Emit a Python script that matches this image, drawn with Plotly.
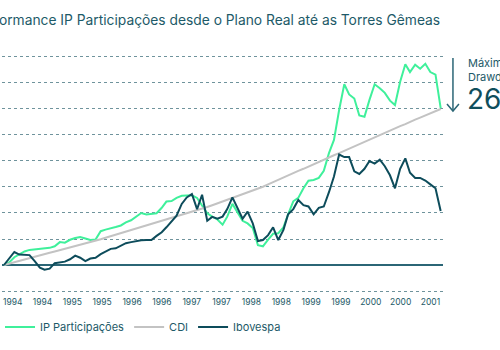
import plotly.graph_objects as go
import pandas as pd

# Monthly observations, Jul 1994 (Plano Real) to Sep 2001 (Torres Gêmeas)
months = pd.date_range("1994-07-01", "2001-09-01", freq="MS")

# Cumulative return (in units of 100%)
ip_participacoes = [
    0.00, 0.10, 0.30, 0.42, 0.52, 0.58, 0.60, 0.63, 0.62, 0.66,
    0.72, 0.88, 0.86, 0.97, 1.04, 1.08, 1.02, 0.96, 0.98, 1.30,
    1.36, 1.40, 1.46, 1.52, 1.64, 1.72, 1.88, 2.00, 1.94, 1.97,
    1.99, 2.20, 2.44, 2.46, 2.58, 2.66, 2.68, 2.68, 2.58, 2.30,
    1.99, 1.86, 1.75, 1.55, 1.86, 2.35, 2.05, 1.70, 1.60, 1.42,
    0.76, 0.72, 0.98, 1.20, 1.22, 1.45, 1.95, 2.45, 2.58, 2.95,
    3.24, 3.27, 3.35, 3.62, 4.30, 4.81, 5.96, 6.95, 6.56, 6.40,
    5.75, 5.70, 6.35, 6.95, 6.80, 6.62, 6.32, 6.15, 7.05, 7.72,
    7.42, 7.70, 7.55, 7.74, 7.42, 7.32, 6.03,
]

cdi = [
    0.00, 0.05, 0.10, 0.16, 0.21, 0.26, 0.31, 0.36, 0.42, 0.47,
    0.52, 0.57, 0.62, 0.68, 0.73, 0.78, 0.83, 0.88, 0.94, 0.99,
    1.05, 1.11, 1.16, 1.22, 1.28, 1.34, 1.39, 1.45, 1.51, 1.57,
    1.63, 1.69, 1.75, 1.81, 1.86, 1.92, 1.98, 2.04, 2.10, 2.15,
    2.23, 2.30, 2.37, 2.44, 2.51, 2.58, 2.65, 2.72, 2.79, 2.86,
    2.93, 3.01, 3.10, 3.19, 3.27, 3.36, 3.44, 3.53, 3.62, 3.70,
    3.79, 3.87, 3.96, 4.05, 4.13, 4.22, 4.30, 4.39, 4.48, 4.56,
    4.65, 4.73, 4.82, 4.91, 4.99, 5.08, 5.16, 5.25, 5.34, 5.42,
    5.51, 5.59, 5.67, 5.75, 5.84, 5.92, 6.00,
]

ibovespa = [
    0.00, 0.25, 0.50, 0.40, 0.38, 0.38, 0.15, -0.10, -0.18, -0.14,
    0.07, 0.09, 0.13, 0.22, 0.36, 0.28, 0.15, 0.25, 0.28, 0.42,
    0.52, 0.62, 0.64, 0.74, 0.84, 0.88, 0.92, 0.95, 0.96, 0.96,
    1.12, 1.26, 1.45, 1.70, 1.90, 2.35, 2.60, 2.73, 2.15, 2.70,
    1.70, 1.85, 1.78, 1.86, 2.15, 2.60, 2.20, 1.78, 2.05, 1.60,
    0.92, 0.96, 1.15, 1.45, 0.96, 1.35, 1.95, 2.15, 2.50, 2.30,
    2.25, 1.95, 2.20, 2.25, 2.80, 3.40, 4.25, 4.15, 4.15, 3.60,
    3.50, 3.70, 4.00, 3.90, 4.05, 3.80, 3.45, 2.95, 3.70, 4.10,
    3.55, 3.35, 3.35, 3.25, 3.10, 2.95, 2.08,
]

tick_dates = [
    "1994-06-29", "1994-12-25", "1995-06-22", "1995-12-18", "1996-06-14",
    "1996-12-10", "1997-06-07", "1997-12-03", "1998-05-31", "1998-11-26",
    "1999-05-24", "1999-11-19", "2000-05-16", "2000-11-11", "2001-05-09",
]

series_names = ["IP Participações", "CDI", "Ibovespa"]
series_colors = ["#3ff09b", "#c3c3c3", "#0d4c5b"]
text_color = "#1d5a68"
grid_color = "#6f939c"

fig = go.Figure()
for name, vals, col in zip(series_names, [ip_participacoes, cdi, ibovespa], series_colors):
    fig.add_trace(go.Scatter(
        x=months, y=vals, mode="lines", name=name,
        line=dict(color=col, width=2),
    ))

W_PLOT = 443.0
H_PLOT = 243.0
TOP = 52.0

def px_x(p):
    return p / W_PLOT

def px_y(p):
    return (TOP + H_PLOT - p) / H_PLOT

fig.update_layout(
    width=500, height=350,
    margin=dict(l=0, r=57, t=52, b=55),
    paper_bgcolor="white", plot_bgcolor="white",
    font=dict(family="Inter", color=text_color),
    showlegend=True,
    legend=dict(
        orientation="h", x=px_x(-2), xanchor="left", y=px_y(327), yanchor="middle",
        font=dict(size=11, color=text_color), itemwidth=30,
        bgcolor="rgba(0,0,0,0)",
    ),
    xaxis=dict(
        type="date", range=["1994-06-19", "2001-09-15"],
        showgrid=False, zeroline=False, showline=False,
        tickvals=tick_dates, tickformat="%Y", ticks="",
        ticklabelshift=9, tickangle=0,
        tickfont=dict(size=8.5, color=text_color),
    ),
    yaxis=dict(
        range=[-1.154, 8.192], tick0=0, dtick=1,
        showgrid=True, gridcolor=grid_color, griddash="dot", gridwidth=1,
        zeroline=True, zerolinecolor="#2b6676", zerolinewidth=1.5,
        showticklabels=False, showline=False,
    ),
)

fig.add_annotation(
    text="Performance IP Participações desde o Plano Real até as Torres Gêmeas",
    xref="paper", yref="paper", x=px_x(442), y=px_y(20),
    xanchor="right", yanchor="middle", showarrow=False,
    font=dict(size=13.8, color=text_color),
)

# Drawdown arrow
fig.add_shape(type="line", xref="paper", yref="paper",
              x0=px_x(453), x1=px_x(453), y0=px_y(58), y1=px_y(111),
              line=dict(color="#2b6676", width=1.5))
fig.add_shape(type="path", xref="paper", yref="paper",
              path=f"M{px_x(447)},{px_y(104)} L{px_x(453)},{px_y(111)} L{px_x(459)},{px_y(104)}",
              line=dict(color="#2b6676", width=1.5))

fig.add_annotation(text="Máximo<br>Drawdown", xref="paper", yref="paper",
                   x=px_x(466), y=px_y(70), xanchor="left", yanchor="middle",
                   align="left", showarrow=False,
                   font=dict(size=11, color=text_color))
fig.add_annotation(text="26%", xref="paper", yref="paper",
                   x=px_x(465), y=px_y(99), xanchor="left", yanchor="middle",
                   showarrow=False, font=dict(size=28, color="#0f4e5c"))

fig.write_html("out.html")
